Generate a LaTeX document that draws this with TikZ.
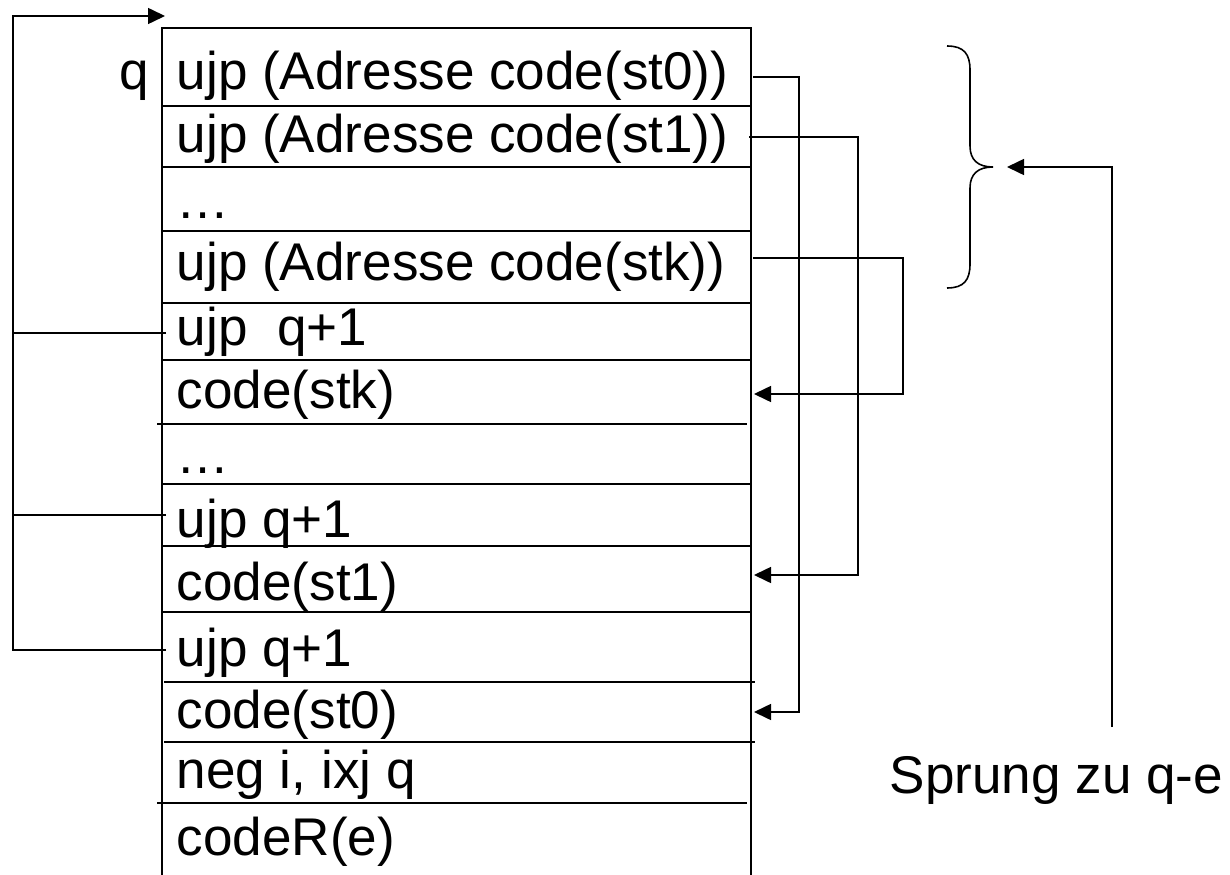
\documentclass[tikz,border=0pt]{standalone}
\usepackage{fontspec}
\setmainfont{Liberation Sans}
\usetikzlibrary{arrows.meta}

\begin{document}
\begin{tikzpicture}[x=0.02cm, y=-0.02cm,
  line width=0.9pt,
  cell/.style={anchor=base west, inner sep=0pt, font=\fontsize{30.2}{35}\selectfont},
  arrow/.style={-{Triangle[length=0.34cm, width=0.32cm]}},
]
  \useasboundingbox (0,0) rectangle (1230,875);

  % the code table
  \draw (162,875) -- (162,28) -- (751,28) -- (751,875);
  \foreach \y/\a/\b in {106/162/751, 167/162/751, 231/162/751, 303/162/751,
                        360/162/751, 424/157/747, 484/162/751, 546/162/751,
                        612/162/751, 682/164/755, 742/164/755, 803/157/747}
    \draw (\a,\y) -- (\b,\y);

  \node[cell, anchor=base east] (q) at (150,90) {q};
  \node[cell] (r1) at (176,90) {ujp (Adresse code(st0))};
  \node[cell] (r2) at (176,153) {ujp (Adresse code(st1))};
  \node[cell] (r3) at (176,218) {…};
  \node[cell] (r4) at (176,280) {ujp (Adresse code(stk))};
  \node[cell] (r5) at (176,345) {ujp\ \ q+1};
  \node[cell] (r6) at (176,408) {code(stk)};
  \node[cell] (r7) at (176,473) {…};
  \node[cell] (r8) at (176,537) {ujp q+1};
  \node[cell] (r9) at (176,600) {code(st1)};
  \node[cell] (r10) at (176,666) {ujp q+1};
  \node[cell] (r11) at (176,728) {code(st0)};
  \node[cell] (r12) at (176,788) {neg i, ixj q};
  \node[cell] (r13) at (176,855) {codeR(e)};

  % jumps into code(st_i)
  \coordinate (j0) at (753,77);
  \coordinate (j1) at (749,137);
  \coordinate (jk) at (753,258);
  \coordinate (t0) at (754,712);
  \coordinate (t1) at (754,575);
  \coordinate (tk) at (754,394);
  \draw[arrow] (j0) -- (799,77) |- (t0);
  \draw[arrow] (j1) -- (858,137) |- (t1);
  \draw[arrow] (jk) -- (903,258) |- (tk);

  % back to q+1
  \coordinate (u1) at (166,333);
  \coordinate (u2) at (166,515);
  \coordinate (u3) at (166,650);
  \coordinate (top) at (165,16);
  \draw (u1) -- (13,333);
  \draw (u2) -- (13,515);
  \draw[arrow] (u3) -| (13,16) -- (top);

  % brace and jump q-e
  \draw (947,46) .. controls (964,46) and (970,54) .. (970,70) -- (970,146)
    .. controls (970,160) and (978,167) .. (993,167)
    .. controls (978,167) and (970,174) .. (970,188) -- (970,264)
    .. controls (970,280) and (964,288) .. (947,288);
  \coordinate (tip) at (1007,167);
  \node[cell] (sprung) at (889,793) {Sprung zu q-e};
  \coordinate (qe) at (1112,727);
  \draw[arrow] (qe) |- (tip);
\end{tikzpicture}
\end{document}
